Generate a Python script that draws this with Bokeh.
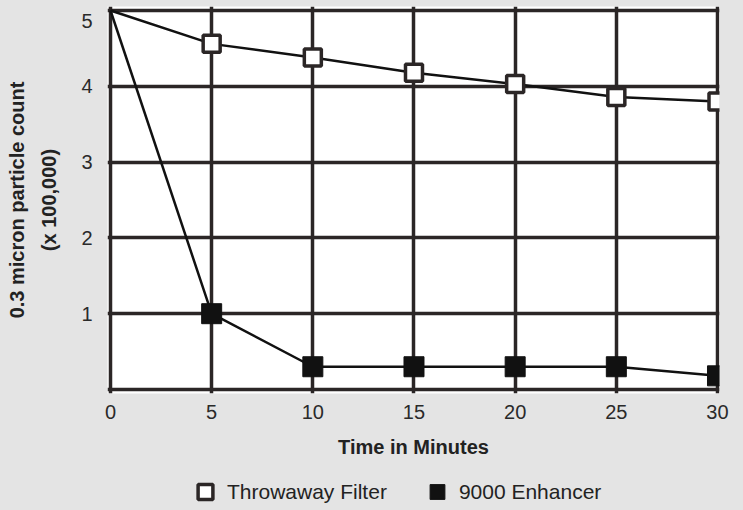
from bokeh.plotting import figure
from bokeh.layouts import column
from bokeh.models import FixedTicker, Range1d, Legend, LegendItem
from bokeh.embed import file_html
from bokeh.resources import INLINE

# ---- data ----
minutes = [0, 5, 10, 15, 20, 25, 30]
throwaway = [5.0, 4.56, 4.38, 4.18, 4.03, 3.86, 3.80]
enhancer = [5.0, 1.0, 0.30, 0.30, 0.30, 0.30, 0.18]
x_ticks = [0, 5, 10, 15, 20, 25, 30]
y_ticks = [0, 1, 2, 3, 4, 5]
series_names = ["Throwaway Filter", "9000 Enhancer"]
x_title = "Time in Minutes"
y_title = "0.3 micron particle count\n(x 100,000)"

FONT = "Liberation Sans"
GRID = "#2b2626"
BG = "#e4e4e4"
OPEN_STYLE = dict(marker="square", fill_color="white", line_color=GRID, line_width=3.5)
FILL_STYLE = dict(marker="square", fill_color="#111111", line_color="#111111", line_width=1)

p = figure(width=743, height=466, output_backend="svg", toolbar_location=None,
           x_range=Range1d(-0.148, 30.099), y_range=Range1d(-0.053, 5.053),
           min_border_left=107, min_border_right=24, min_border_top=6,
           min_border_bottom=73)
p.background_fill_color = "white"
p.border_fill_color = BG
p.outline_line_color = None

# grid
p.xgrid.ticker = FixedTicker(ticks=x_ticks)
p.ygrid.ticker = FixedTicker(ticks=y_ticks)
for g in (p.xgrid, p.ygrid):
    g.grid_line_color = GRID
    g.grid_line_width = 3.5
    g.grid_line_alpha = 1.0

# axes
p.xaxis.ticker = FixedTicker(ticks=x_ticks)
p.yaxis.ticker = FixedTicker(ticks=y_ticks)
p.yaxis.major_label_overrides = {0: "", 5: "\n5"}
p.yaxis.major_label_text_line_height = 0.45
for ax in (p.xaxis, p.yaxis):
    ax.axis_line_color = None
    ax.major_tick_line_color = None
    ax.minor_tick_line_color = None
    ax.major_tick_out = 0
    ax.major_label_text_font = FONT
    ax.major_label_text_font_size = "20px"
    ax.major_label_text_color = "#2a2a2a"
    ax.axis_label_text_font = FONT
    ax.axis_label_text_font_size = "20px"
    ax.axis_label_text_font_style = "bold"
    ax.axis_label_text_color = "#222222"
p.xaxis.major_label_standoff = 11
p.yaxis.major_label_standoff = 15
p.xaxis.axis_label = x_title
p.xaxis.axis_label_standoff = 14
p.yaxis.axis_label = y_title
p.yaxis.axis_label_standoff = 18
p.yaxis.axis_label_text_line_height = 1.45

# lines
p.line(minutes, throwaway, line_color="#111111", line_width=2.5)
p.line(minutes, enhancer, line_color="#111111", line_width=2.5)

# markers
p.scatter(minutes[1:], throwaway[1:], size=17, **OPEN_STYLE)
p.scatter(minutes[1:], enhancer[1:], size=20, **FILL_STYLE)

# legend strip (separate figure below the chart; its data lies outside its ranges)
lg = figure(width=743, height=44, output_backend="svg", toolbar_location=None,
            x_range=Range1d(-2, -1), y_range=Range1d(-2, -1),
            min_border_left=0, min_border_right=0, min_border_top=0,
            min_border_bottom=0)
lg.axis.visible = False
lg.grid.visible = False
lg.outline_line_color = None
lg.background_fill_color = None
lg.border_fill_color = BG
lr_t = lg.scatter(minutes[1:], throwaway[1:], **OPEN_STYLE)
lr_e = lg.scatter(minutes[1:], enhancer[1:], **FILL_STYLE)
legend = Legend(items=[LegendItem(label=series_names[0], renderers=[lr_t]),
                       LegendItem(label=series_names[1], renderers=[lr_e])],
                orientation="horizontal", location=(76, 0),
                glyph_width=44, glyph_height=37, label_standoff=0, spacing=28,
                padding=0, margin=0, background_fill_alpha=0,
                border_line_color=None, label_text_font=FONT,
                label_text_font_size="21px", label_text_color="#222222")
lg.add_layout(legend)

layout = column(p, lg, spacing=0, styles={"background-color": BG})
open("out.html", "w").write(file_html(layout, INLINE))
